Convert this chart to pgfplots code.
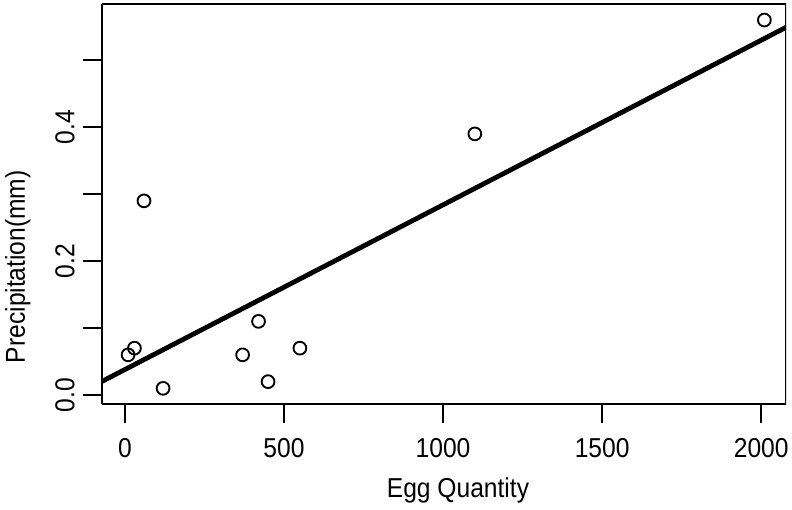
\documentclass[border=0pt]{standalone}
\usepackage{pgfplots}
\pgfplotsset{compat=1.18}
\usepackage{fontspec}
\setmainfont[FakeStretch=0.9]{Liberation Sans}
\begin{document}
\begin{tikzpicture}[x=1pt,y=1pt]
\begin{axis}[
  scale only axis,
  width=513pt, height=300pt,
  xmin=-72, xmax=2078,
  ymin=-0.0134, ymax=0.584,
  axis x line*=bottom, axis y line*=left,
  axis line style={line width=1.6pt},
  xtick={0,500,1000,1500,2000},
  ytick={0,0.1,0.2,0.3,0.4,0.5},
  yticklabels={0.0,,0.2,,0.4,},
  tick align=outside,
  major tick length=14.25pt,
  tick style={line width=1.6pt,black},
  /pgf/number format/assume math mode=true,
  /pgf/number format/1000 sep={},
  xticklabel style={font=\fontsize{20.5}{24}\selectfont, anchor=north, inner sep=0pt, yshift=-11.25pt},
  yticklabel style={font=\fontsize{20.5}{24}\selectfont, rotate=90, anchor=south, inner sep=0pt, yshift=6pt},
  xlabel={Egg Quantity}, ylabel={Precipitation(mm)},
  label style={font=\fontsize{20.5}{24}\selectfont},
  xlabel style={at={([xshift=10.5pt,yshift=-69.75pt]axis description cs:0.5,0)}, anchor=base, inner sep=0pt},
  ylabel style={at={([xshift=-57.75pt,yshift=-47pt]axis description cs:0,0.5)}, anchor=base, inner sep=0pt},
  clip=true,
]
\addplot[black, line width=3.6pt] coordinates {(-200,-0.0111) (2300,0.6037)};
\addplot[only marks, mark=o, mark size=4.8pt, mark options={line width=1.4pt, black}] coordinates {
(10,0.06) (30,0.07) (60,0.29) (120,0.01) (370,0.06) (420,0.11) (450,0.02) (550,0.07) (1100,0.39) (2010,0.56)};
\draw[line width=1.6pt] (rel axis cs:0,0) rectangle (rel axis cs:1,1);
\end{axis}
\useasboundingbox (current axis.south west) ++(-76.5pt,-79.5pt) rectangle ([xshift=4.5pt,yshift=3pt]current axis.north east);
\end{tikzpicture}
\end{document}
